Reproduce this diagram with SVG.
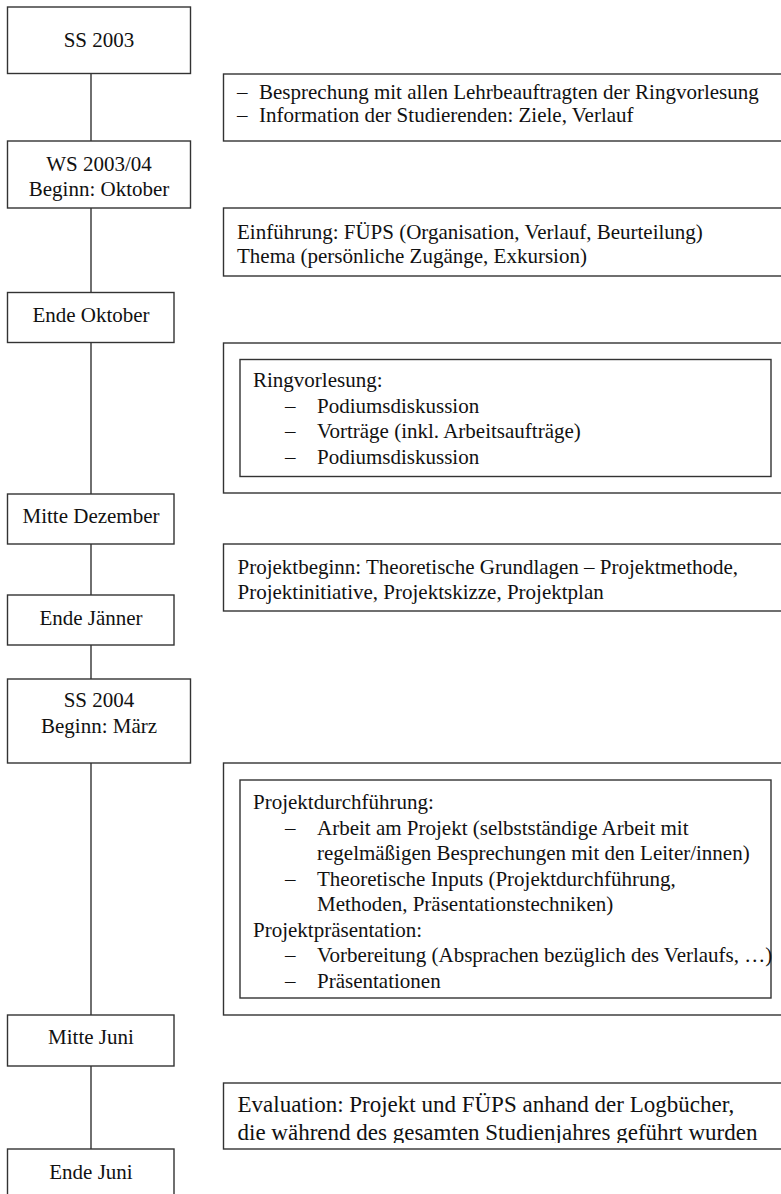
<svg xmlns="http://www.w3.org/2000/svg" width="781" height="1194" viewBox="0 0 781 1194">
<style>
rect{fill:#fff;stroke:#333;stroke-width:1.4}
line{stroke:#333;stroke-width:1.4}
text{font-family:"Liberation Serif","Times New Roman",serif;font-size:21px;fill:#111}
.c{text-anchor:middle}
.big{font-size:23px}
</style>
<defs>
<clipPath id="evalClip"><rect x="224" y="1084" width="560" height="59"/></clipPath>
</defs>
<g id="connectors">
<line x1="91" y1="73.5" x2="91" y2="141"/>
<line x1="91" y1="208" x2="91" y2="292.5"/>
<line x1="91" y1="342.5" x2="91" y2="494"/>
<line x1="91" y1="544" x2="91" y2="595"/>
<line x1="91" y1="645" x2="91" y2="679"/>
<line x1="91" y1="763" x2="91" y2="1015"/>
<line x1="91" y1="1066" x2="91" y2="1149"/>
</g>
<g id="n-ss2003"><rect x="7.5" y="7" width="183" height="66.5"/><text class="c" x="99" y="47">SS 2003</text></g>
<g id="n-ws2003"><rect x="7.5" y="141" width="183" height="67"/><text class="c" x="99" y="171">WS 2003/04</text><text class="c" x="99" y="196">Beginn: Oktober</text></g>
<g id="n-endeokt"><rect x="7.5" y="292.5" width="166.5" height="50"/><text class="c" x="91" y="322">Ende Oktober</text></g>
<g id="n-mittedez"><rect x="7.5" y="494" width="166.5" height="50"/><text class="c" x="91" y="523">Mitte Dezember</text></g>
<g id="n-endejan"><rect x="7.5" y="595" width="166.5" height="50"/><text class="c" x="91" y="625">Ende Jänner</text></g>
<g id="n-ss2004"><rect x="7.5" y="679" width="183" height="84"/><text class="c" x="99" y="707">SS 2004</text><text class="c" x="99" y="733">Beginn: März</text></g>
<g id="n-mittejuni"><rect x="7.5" y="1015" width="166.5" height="51"/><text class="c" x="91" y="1044">Mitte Juni</text></g>
<g id="n-endejuni"><rect x="7.5" y="1149" width="166.5" height="60"/><text class="c" x="91" y="1179">Ende Juni</text></g>
<g id="r-besprechung"><rect x="223.5" y="74" width="600" height="67"/>
<text x="237" y="98.5">–</text><text x="259" y="98.5">Besprechung mit allen Lehrbeauftragten der Ringvorlesung</text>
<text x="237" y="122">–</text><text x="259" y="122">Information der Studierenden: Ziele, Verlauf</text></g>
<g id="r-einfuehrung"><rect x="223.5" y="208" width="600" height="68"/>
<text x="237" y="239">Einführung: FÜPS (Organisation, Verlauf, Beurteilung)</text>
<text x="237" y="263">Thema (persönliche Zugänge, Exkursion)</text></g>
<g id="r-ringvorlesung"><rect x="223.5" y="343" width="600" height="150"/><rect x="240" y="359.5" width="531" height="117"/>
<text x="253" y="387">Ringvorlesung:</text>
<text x="285" y="412.5">–</text><text x="317" y="412.5">Podiumsdiskussion</text>
<text x="285" y="438">–</text><text x="317" y="438">Vorträge (inkl. Arbeitsaufträge)</text>
<text x="285" y="463.5">–</text><text x="317" y="463.5">Podiumsdiskussion</text></g>
<g id="r-projektbeginn"><rect x="223.5" y="544" width="600" height="67"/>
<text x="237.5" y="573.5">Projektbeginn: Theoretische Grundlagen – Projektmethode,</text>
<text x="237.5" y="598.5">Projektinitiative, Projektskizze, Projektplan</text></g>
<g id="r-projektdurchfuehrung"><rect x="223.5" y="763" width="600" height="252"/><rect x="240" y="780" width="531" height="218"/>
<text x="253" y="809">Projektdurchführung:</text>
<text x="285" y="834.5">–</text><text x="317" y="834.5">Arbeit am Projekt (selbstständige Arbeit mit</text>
<text x="317" y="860">regelmäßigen Besprechungen mit den Leiter/innen)</text>
<text x="285" y="885.5">–</text><text x="317" y="885.5">Theoretische Inputs (Projektdurchführung,</text>
<text x="317" y="911">Methoden, Präsentationstechniken)</text>
<text x="253" y="936.5">Projektpräsentation:</text>
<text x="285" y="962">–</text><text x="317" y="962">Vorbereitung (Absprachen bezüglich des Verlaufs, …)</text>
<text x="285" y="987.5">–</text><text x="317" y="987.5">Präsentationen</text></g>
<g id="r-evaluation"><rect x="223.5" y="1083" width="600" height="66"/>
<g clip-path="url(#evalClip)">
<text class="big" x="237.5" y="1112">Evaluation: Projekt und FÜPS anhand der Logbücher,</text>
<text class="big" x="237.5" y="1140">die während des gesamten Studienjahres geführt wurden</text></g></g>
</svg>
